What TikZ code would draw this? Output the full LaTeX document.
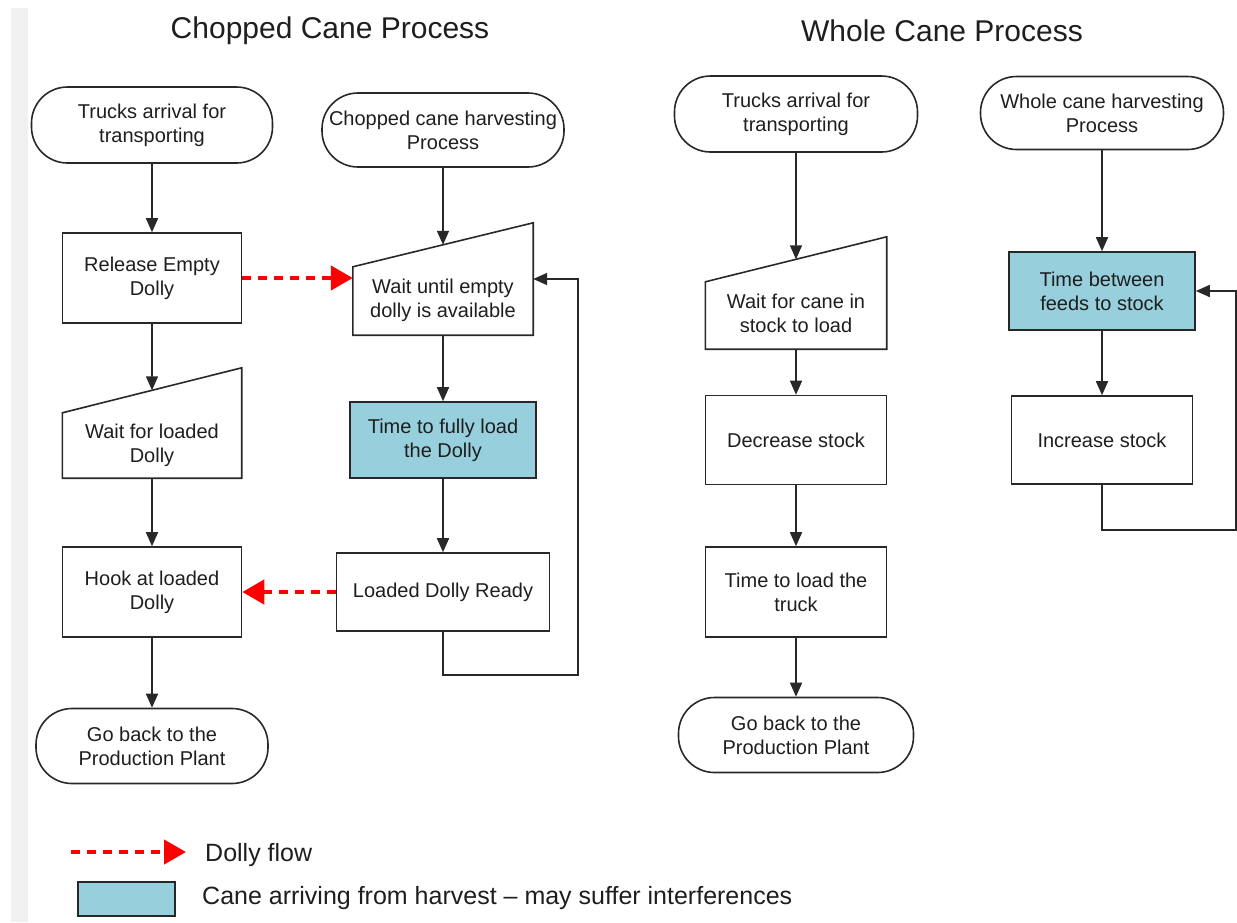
\documentclass[tikz,border=0pt]{standalone}
\usepackage{fontspec}
\setmainfont{Liberation Sans}
\usetikzlibrary{arrows.meta,calc}
\definecolor{canebl}{RGB}{151,207,220}
\definecolor{ln}{RGB}{40,40,40}
\definecolor{txt}{RGB}{30,30,30}
\begin{document}
\begin{tikzpicture}[x=1pt,y=-1pt,
  box/.style={draw=ln, line width=1.6pt, align=center, inner sep=0pt, text=txt,
    font=\fontsize{20}{24}\selectfont},
  term/.style={box, rounded corners=36pt},
  bare/.style={draw=none, inner sep=0pt},
  shp/.style={draw=ln, line width=1.6pt},
  flow/.style={draw=ln, line width=1.6pt, -{Triangle[length=14pt,width=12pt]}},
  dolly/.style={draw=red, line width=4.5pt, dash pattern=on 9pt off 7pt, -{Triangle[length=22pt,width=24pt]}},
  lbl/.style={align=center, inner sep=0pt, text=txt, font=\fontsize{20}{24}\selectfont},
  ttl/.style={inner sep=0pt, text=txt, font=\fontsize{30}{36}\selectfont},
  lgd/.style={inner sep=0pt, text=txt, font=\fontsize{25}{29}\selectfont, anchor=west}]
\useasboundingbox (0,0) rectangle (1237,922);
\fill[gray!12] (11,8) rectangle (28,922);

% titles
\node[ttl] (title1) at (330,31) {Chopped Cane Process};
\node[ttl] (title2) at (942,31) {Whole Cane Process};

% chopped left column
\node[term, minimum width=241pt, minimum height=76pt] (t1) at (152,125) {Trucks arrival for\\transporting};
\node[box, minimum width=179pt, minimum height=90pt] (rel) at (152,278) {Release Empty\\Dolly};
\node[bare, minimum width=179pt, minimum height=110pt] (wfl) at (152,423) {};
\draw[shp] (wfl.south west) -- (wfl.south east) -- (wfl.north east) -- ($(wfl.north west)+(0,45)$) -- cycle;
\coordinate (wfltop) at ($(wfl.north west)!.5!(wfl.north east)+(0,22.5)$);
\node[lbl] (wflt) at (152,445) {Wait for loaded\\Dolly};
\node[box, minimum width=179pt, minimum height=90pt] (hook) at (152,592) {Hook at loaded\\Dolly};
\node[term, minimum width=232pt, minimum height=75pt] (gb1) at (152,746) {Go back to the\\Production Plant};

% chopped right column
\node[term, minimum width=242pt, minimum height=74pt] (ch) at (443,130) {Chopped cane harvesting\\Process};
\node[bare, minimum width=180pt, minimum height=112pt] (wue) at (443,279) {};
\draw[shp] (wue.south west) -- (wue.south east) -- (wue.north east) -- ($(wue.north west)+(0,44)$) -- cycle;
\coordinate (wuetop) at ($(wue.north west)!.5!(wue.north east)+(0,22)$);
\node[lbl] (wuet) at (443,300) {Wait until empty\\dolly is available};
\node[box, fill=canebl, minimum width=186pt, minimum height=76pt] (tfl) at (443,440) {Time to fully load\\the Dolly};
\node[box, minimum width=213pt, minimum height=78pt] (ldr) at (443,592) {Loaded Dolly Ready};
\coordinate (lp1) at (578,675);

% whole left column
\node[term, minimum width=243pt, minimum height=76pt] (t2) at (796,114) {Trucks arrival for\\transporting};
\node[bare, minimum width=181pt, minimum height=112pt] (wfc) at (796,293) {};
\draw[shp] (wfc.south west) -- (wfc.south east) -- (wfc.north east) -- ($(wfc.north west)+(0,45)$) -- cycle;
\coordinate (wfctop) at ($(wfc.north west)!.5!(wfc.north east)+(0,22.5)$);
\node[lbl] (wfct) at (796,313) {Wait for cane in\\stock to load};
\node[box, minimum width=181pt, minimum height=89pt] (dec) at (796,440) {Decrease stock};
\node[box, minimum width=181pt, minimum height=90pt] (tlt) at (796,592) {Time to load the\\truck};
\node[term, minimum width=235pt, minimum height=75pt] (gb2) at (796,735) {Go back to the\\Production Plant};

% whole right column
\node[term, minimum width=243pt, minimum height=73pt] (wh) at (1102,113) {Whole cane harvesting\\Process};
\node[box, fill=canebl, minimum width=186pt, minimum height=78pt] (tbf) at (1102,291) {Time between\\feeds to stock};
\node[box, minimum width=181pt, minimum height=88pt] (inc) at (1102,440) {Increase stock};
\coordinate (lp2) at (1236,530);

% connectors
\draw[flow] (t1.south) -- (rel.north);
\draw[flow] (rel.south) -- (wfltop);
\draw[flow] (wfl.south) -- (hook.north);
\draw[flow] (hook.south) -- (gb1.north);
\draw[flow] (ch.south) -- (wuetop);
\draw[flow] (wue.south) -- (tfl.north);
\draw[flow] (tfl.south) -- (ldr.north);
\draw[flow] (ldr.south) |- (lp1) |- (wue.east);
\draw[flow] (t2.south) -- (wfctop);
\draw[flow] (wfc.south) -- (dec.north);
\draw[flow] (dec.south) -- (tlt.north);
\draw[flow] (tlt.south) -- (gb2.north);
\draw[flow] (wh.south) -- (tbf.north);
\draw[flow] (tbf.south) -- (inc.north);
\draw[flow] (inc.south) |- (lp2) |- (tbf.east);

\draw[dolly] (rel.east) -- (wue.west |- rel.east);
\draw[dolly] (ldr.west) -- (hook.east);

% legend
\coordinate (lg1) at (71,852);
\coordinate (lg2) at (186,852);
\draw[dolly] (lg1) -- (lg2);
\node[lgd] (lgt1) at (205,855) {Dolly flow};
\node[box, fill=canebl, minimum width=97pt, minimum height=34pt] (lgb) at (126.5,899) {};
\node[lgd] (lgt2) at (202,898) {Cane arriving from harvest – may suffer interferences};
\end{tikzpicture}
\end{document}
